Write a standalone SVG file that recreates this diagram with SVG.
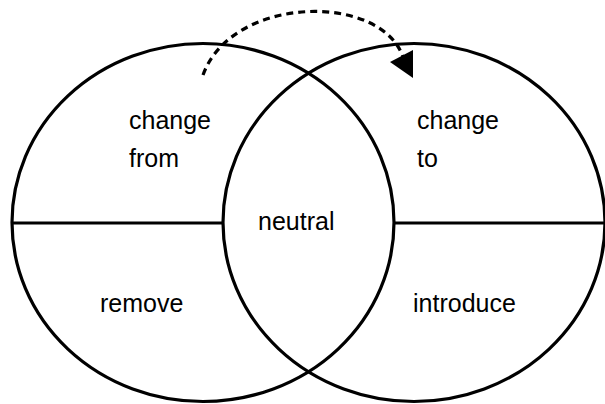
<svg xmlns="http://www.w3.org/2000/svg" width="605" height="404" viewBox="0 0 605 404">
<style>
.shape{fill:none;stroke:#000;stroke-width:3.2}
.lbl{font-family:"Liberation Sans",Arial,sans-serif;font-size:25px;fill:#000}
</style>
<rect width="605" height="404" fill="#fff"/>
<g id="left-set">
<ellipse class="shape" cx="203" cy="222.5" rx="191" ry="179"/>
<line class="shape" x1="12" y1="223" x2="223" y2="223"/>
<text class="lbl" x="129" y="129">change</text>
<text class="lbl" x="129" y="167">from</text>
<text class="lbl" x="100" y="312">remove</text>
</g>
<g id="right-set">
<ellipse class="shape" cx="414" cy="222.5" rx="191" ry="179"/>
<line class="shape" x1="394" y1="223" x2="605" y2="223"/>
<text class="lbl" x="417" y="129">change</text>
<text class="lbl" x="417" y="167">to</text>
<text class="lbl" x="413" y="312">introduce</text>
</g>
<g id="neutral">
<text class="lbl" x="258" y="230">neutral</text>
</g>
<g id="connectors">
<path d="M203,75 C232,-6 385,-8 404,60" fill="none" stroke="#000" stroke-width="3.2" stroke-dasharray="7,5"/>
<polygon points="390,62 413,50 413,78" fill="#000"/>
</g>
</svg>
